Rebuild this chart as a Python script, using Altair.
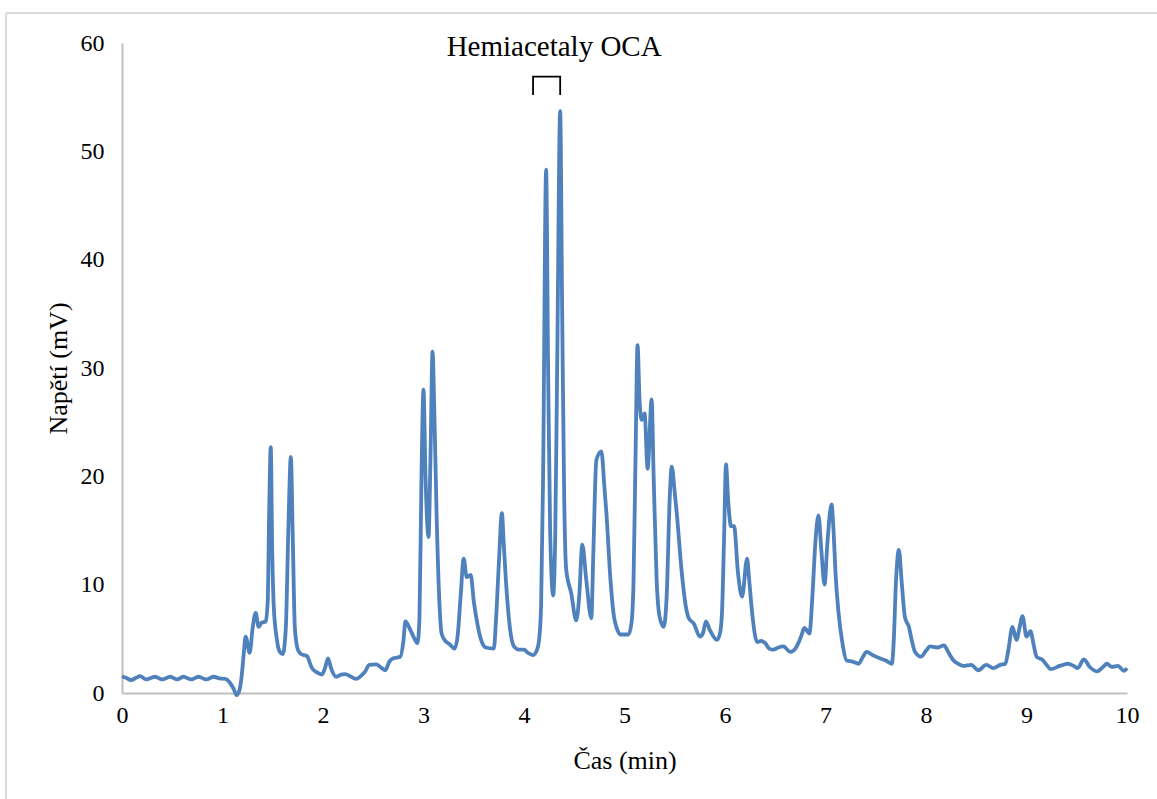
import altair as alt
import pandas as pd

time_min = [
    0.00, 0.04, 0.09, 0.14, 0.18, 0.24, 0.33, 0.40, 0.48, 0.55, 0.61, 0.69, 0.76, 0.84, 0.91, 0.97,
    1.03, 1.07, 1.11, 1.14, 1.17, 1.19, 1.21, 1.23, 1.27, 1.30, 1.33, 1.36, 1.39, 1.43, 1.45, 1.465,
    1.48, 1.495, 1.51, 1.54, 1.57, 1.60, 1.63, 1.655, 1.68, 1.70, 1.72, 1.75, 1.78, 1.84, 1.89, 1.94,
    1.99, 2.02, 2.05, 2.08, 2.13, 2.18, 2.22, 2.28, 2.33, 2.38, 2.42, 2.46, 2.53, 2.57, 2.62, 2.66,
    2.70, 2.77, 2.80, 2.82, 2.86, 2.90, 2.94, 2.96, 2.98, 3.00, 3.02, 3.05, 3.07, 3.09, 3.11, 3.13,
    3.16, 3.18, 3.21, 3.26, 3.31, 3.34, 3.37, 3.40, 3.43, 3.47, 3.50, 3.53, 3.57, 3.62, 3.70, 3.72,
    3.75, 3.78, 3.80, 3.82, 3.86, 3.90, 3.95, 4.00, 4.04, 4.09, 4.13, 4.15, 4.17, 4.19, 4.22, 4.24,
    4.26, 4.29, 4.31, 4.33, 4.36, 4.38, 4.40, 4.42, 4.47, 4.52, 4.55, 4.58, 4.62, 4.67, 4.69, 4.72,
    4.77, 4.80, 4.82, 4.86, 4.89, 4.93, 4.96, 5.04, 5.07, 5.09, 5.11, 5.13, 5.15, 5.17, 5.20, 5.23,
    5.27, 5.29, 5.32, 5.35, 5.39, 5.42, 5.45, 5.47, 5.50, 5.52, 5.57, 5.61, 5.64, 5.69, 5.75, 5.78,
    5.81, 5.85, 5.92, 5.95, 5.97, 5.99, 6.01, 6.03, 6.06, 6.09, 6.13, 6.17, 6.22, 6.24, 6.27, 6.32,
    6.36, 6.40, 6.44, 6.48, 6.53, 6.58, 6.65, 6.70, 6.73, 6.76, 6.79, 6.84, 6.87, 6.90, 6.93, 6.96,
    6.99, 7.02, 7.06, 7.08, 7.10, 7.13, 7.17, 7.21, 7.27, 7.33, 7.37, 7.41, 7.47, 7.54, 7.60, 7.66,
    7.68, 7.70, 7.73, 7.76, 7.79, 7.83, 7.86, 7.89, 7.95, 8.00, 8.04, 8.11, 8.18, 8.22, 8.27, 8.32,
    8.37, 8.45, 8.52, 8.60, 8.67, 8.74, 8.79, 8.82, 8.86, 8.90, 8.93, 8.96, 9.00, 9.04, 9.07, 9.10,
    9.16, 9.20, 9.24, 9.33, 9.41, 9.47, 9.51, 9.57, 9.63, 9.70, 9.75, 9.80, 9.85, 9.91, 9.97, 10.00,
]

voltage_mv = [
    1.55, 1.4, 1.2, 1.4, 1.55, 1.25, 1.5, 1.25, 1.5, 1.25, 1.5, 1.25, 1.5, 1.25, 1.5, 1.35,
    1.3, 1.0, 0.4, -0.2, 0.3, 1.5, 3.5, 5.2, 3.7, 6.0, 7.4, 6.1, 6.5, 6.6, 8.5, 17,
    22.7, 13, 8, 5, 3.8, 3.6, 6, 15, 21.8, 14, 6, 4, 3.6, 3.4, 2.3, 1.9,
    1.7, 2.3, 3.2, 2.3, 1.5, 1.7, 1.75, 1.5, 1.3, 1.6, 2.0, 2.6, 2.65, 2.4, 2.1, 2.9,
    3.2, 3.35, 4.8, 6.6, 6.0, 5.2, 4.6, 7, 20, 28.0, 20, 14.4, 22, 31.5, 25, 16.6,
    8.0, 5.5, 4.9, 4.5, 4.1, 5.3, 9, 12.4, 10.7, 10.9, 8.5, 6.7, 5.0, 4.2, 4.1, 6.5,
    12, 16.6, 13.5, 10.4, 6, 4.3, 4.0, 4.0, 3.7, 3.5, 4.0, 4.9, 8, 20, 48.3, 30,
    15, 9.0, 14, 30, 53.7, 35, 18, 11.4, 9.2, 6.7, 9, 13.7, 10.4, 6.9, 13, 21.5,
    22.3, 19, 16.6, 10.5, 7.4, 5.8, 5.4, 5.4, 6.5, 10.4, 22, 32.1, 27, 25.2, 25.8, 20.7,
    27.1, 20, 10.4, 7, 6.1, 9, 18, 20.9, 18.5, 16.6, 11.1, 8, 6.9, 6.4, 5.2, 5.5,
    6.6, 5.8, 4.9, 5.5, 7.4, 14, 21.1, 18, 15.4, 15.4, 11, 8.9, 12.4, 10.5, 7.4, 4.7,
    4.8, 4.6, 4.1, 4.0, 4.2, 4.3, 3.8, 4.1, 4.6, 5.3, 6.0, 5.5, 9, 14, 16.4, 13,
    10.0, 14, 17.4, 15, 11, 7.4, 4.5, 3.0, 2.9, 2.7, 3.3, 3.8, 3.5, 3.2, 3.0, 2.7,
    5, 10, 13.2, 10, 7.0, 6.1, 4.8, 3.8, 3.35, 3.9, 4.3, 4.2, 4.4, 3.8, 3.05, 2.7,
    2.5, 2.6, 2.1, 2.6, 2.3, 2.6, 2.7, 4, 6.1, 4.9, 6.0, 7.1, 5.2, 5.7, 4.5, 3.35,
    3.05, 2.6, 2.2, 2.5, 2.7, 2.5, 2.3, 3.1, 2.4, 2.0, 2.3, 2.7, 2.4, 2.5, 2.05, 2.3,
]

x_ticks = list(range(0, 11))
y_ticks = [0, 10, 20, 30, 40, 50, 60]

label_text = ["Hemiacetaly OCA"]
label_t = [4.3]
label_v = [59.6]

bracket_t = [4.09, 4.09, 4.36, 4.36]
bracket_v = [55.2, 56.9, 56.9, 55.2]
bracket_order = [0, 1, 2, 3]

FONT = "Liberation Serif"
BLUE = "#4f81bd"

df = pd.DataFrame({"t": time_min, "v": voltage_mv})
df_label = pd.DataFrame({"t": label_t, "v": label_v, "text": label_text})
df_bracket = pd.DataFrame({"t": bracket_t, "v": bracket_v, "o": bracket_order})

x_scale = alt.Scale(domain=[0, 10], nice=False, zero=False)
y_scale = alt.Scale(domain=[0, 60], nice=False)

line = alt.Chart(df).mark_line(
    color=BLUE, strokeWidth=3.8, interpolate="monotone", clip=False
).encode(
    x=alt.X("t:Q", scale=x_scale,
            axis=alt.Axis(values=x_ticks, format="d", title="Čas (min)", grid=False, ticks=False,
                          domainColor="#bfbfbf", domainWidth=2,
                          labelFont=FONT, labelFontSize=24, labelColor="black",
                          labelPadding=10, labelFlush=False,
                          titleFont=FONT, titleFontSize=26, titleFontWeight="normal",
                          titleColor="black", titleY=67, titleBaseline="middle")),
    y=alt.Y("v:Q", scale=y_scale,
            axis=alt.Axis(values=y_ticks, format="d", title="Napětí (mV)", grid=False, ticks=False,
                          domainColor="#bfbfbf", domainWidth=2,
                          labelFont=FONT, labelFontSize=24, labelColor="black",
                          labelPadding=18,
                          titleFont=FONT, titleFontSize=26, titleFontWeight="normal",
                          titleColor="black", titleX=-64, titleBaseline="middle")),
)

label = alt.Chart(df_label).mark_text(
    font=FONT, fontSize=29, color="black", align="center", baseline="middle"
).encode(
    x=alt.X("t:Q", scale=x_scale),
    y=alt.Y("v:Q", scale=y_scale),
    text="text:N",
)

bracket = alt.Chart(df_bracket).mark_line(color="black", strokeWidth=1.8).encode(
    x=alt.X("t:Q", scale=x_scale),
    y=alt.Y("v:Q", scale=y_scale),
    order="o:Q",
)

frame_left = alt.Chart(pd.DataFrame({"a": [0]})).mark_rule(color="#d9d9d9", strokeWidth=2).encode(
    x=alt.value(-116), y=alt.value(-30), y2=alt.value(800)
)
frame_top = alt.Chart(pd.DataFrame({"a": [0]})).mark_rule(color="#d9d9d9", strokeWidth=2).encode(
    x=alt.value(-116), x2=alt.value(1100), y=alt.value(-30)
)

chart = alt.layer(frame_left, frame_top, line, bracket, label).properties(
    width=1005,
    height=650,
    autosize=alt.AutoSizeParams(type="none"),
    padding={"left": 122, "top": 43, "right": 30, "bottom": 106},
    background="white",
).configure_view(stroke=None)

chart.save("out.html", embed_options={"renderer": "svg", "actions": False})
